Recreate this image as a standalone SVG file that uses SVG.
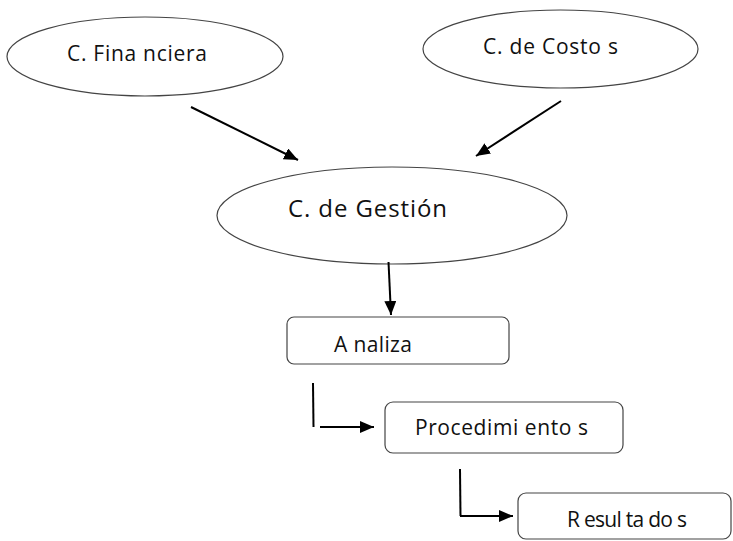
<svg xmlns="http://www.w3.org/2000/svg" width="733" height="541" viewBox="0 0 733 541">
<style>
.shape{fill:#fff;stroke:#444;stroke-width:1.2}
.lbl{font-family:"Open Sans","Liberation Sans",Arial,sans-serif;fill:#111}
.conn{fill:none;stroke:#000;stroke-width:2}
</style>
<defs>
<marker id="ah" markerUnits="userSpaceOnUse" markerWidth="16" markerHeight="14" refX="14" refY="6" orient="auto">
<path d="M0,0 L14,6 L0,12 Z" fill="#000"/>
</marker>
</defs>
<rect width="733" height="541" fill="#fff"/>
<g id="n-financiera">
<ellipse class="shape" cx="145" cy="56.5" rx="138" ry="39.5"/>
<text class="lbl" x="67" y="61" font-size="21" textLength="140" lengthAdjust="spacing">C. Fina nciera</text>
</g>
<g id="n-costos">
<ellipse class="shape" cx="560.5" cy="49" rx="137.5" ry="39"/>
<text class="lbl" x="483" y="54" font-size="21" textLength="135" lengthAdjust="spacing">C. de Costo s</text>
</g>
<g id="n-gestion">
<ellipse class="shape" cx="392" cy="215.5" rx="175" ry="48.5"/>
<text class="lbl" x="288" y="217" font-size="24" textLength="159" lengthAdjust="spacing">C. de Gestión</text>
</g>
<g id="n-analiza">
<rect class="shape" x="287" y="317" width="222" height="47" rx="7"/>
<text class="lbl" x="334" y="352" font-size="21" textLength="78" lengthAdjust="spacing">A naliza</text>
</g>
<g id="n-procedimientos">
<rect class="shape" x="385" y="402" width="238" height="51" rx="8"/>
<text class="lbl" x="415" y="435" font-size="21" textLength="173" lengthAdjust="spacing">Procedimi ento s</text>
</g>
<g id="n-resultados">
<rect class="shape" x="518" y="493" width="213" height="46" rx="8"/>
<text class="lbl" x="567" y="527" font-size="21" textLength="120" lengthAdjust="spacing">R esul ta do s</text>
</g>
<g id="connectors">
<line class="conn" x1="191" y1="107" x2="298" y2="160" marker-end="url(#ah)"/>
<line class="conn" x1="561" y1="101" x2="476" y2="156" marker-end="url(#ah)"/>
<line class="conn" x1="388.5" y1="262" x2="391" y2="315" marker-end="url(#ah)"/>
<line class="conn" x1="313" y1="383" x2="313.5" y2="427"/>
<line class="conn" x1="320" y1="427" x2="374" y2="427" marker-end="url(#ah)"/>
<line class="conn" x1="460" y1="469" x2="460.5" y2="516"/>
<line class="conn" x1="460" y1="516" x2="513" y2="516" marker-end="url(#ah)"/>
</g>
</svg>
